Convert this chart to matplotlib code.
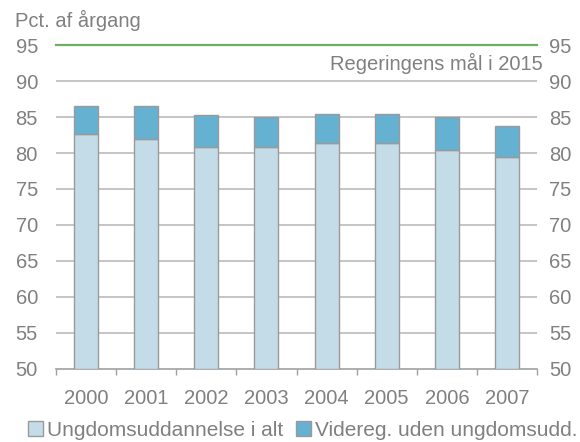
import numpy as np
import matplotlib.pyplot as plt
from matplotlib.patches import Patch

plt.rcParams['font.family'] = ['Liberation Sans', 'DejaVu Sans']

# data
years = ['2000', '2001', '2002', '2003', '2004', '2005', '2006', '2007']
ungdom = [82.6, 82.0, 80.8, 80.8, 81.4, 81.4, 80.45, 79.5]
total = [86.6, 86.6, 85.3, 85.0, 85.5, 85.5, 85.0, 83.8]
videreg = [t - u for t, u in zip(total, ungdom)]
goal = 95
goal_label = 'Regeringens mål i 2015'

GRAY = '#808080'
LIGHT = '#C4DCE8'
DARK = '#65B1D1'
EDGE = '#9A9A9A'
FS = 14.5

fig = plt.figure(figsize=(5.8, 4.42), dpi=100)
ax = fig.add_axes([56 / 580, 1 - 368.5 / 442, 481 / 580, 323.2 / 442])

x = np.arange(len(years))
bottom = 50
ax.bar(x, np.array(ungdom) - bottom, bottom=bottom, width=0.4, color=LIGHT,
       edgecolor=EDGE, linewidth=1, zorder=3)
ax.bar(x, videreg, bottom=ungdom, width=0.4, color=DARK,
       edgecolor=EDGE, linewidth=1, zorder=3)

ax.set_xlim(-0.5, len(years) - 0.5)
ax.set_ylim(50, 95)
yt = np.arange(50, 96, 5)
ax.set_yticks(yt)
for v in yt[1:-1]:
    ax.axhline(v, color='#C0C0C0', linewidth=1.3, zorder=1)
ax.axhline(goal, color='#6DB062', linewidth=1.6, zorder=2, clip_on=False)
fig.text(543 / 580, 1 - 63 / 442, goal_label, ha='right', va='center',
         fontsize=FS, color=GRAY)

for s in ['left', 'right', 'top']:
    ax.spines[s].set_visible(False)
ax.spines['bottom'].set_color('#A0A0A0')
ax.spines['bottom'].set_linewidth(1.2)

ax.set_xticks(x)
ax.set_xticklabels(years)
ax.set_xticks(np.arange(-0.5, len(years), 1), minor=True)
ax.tick_params(axis='x', which='major', length=0, pad=15, labelsize=FS, labelcolor=GRAY)
ax.tick_params(axis='x', which='minor', length=4.5, width=1, direction='out', color='#A0A0A0')
ax.tick_params(axis='y', length=0, pad=13, labelsize=FS, labelcolor=GRAY)

# right hand axis labels
ax2 = ax.twinx()
ax2.set_ylim(50, 95)
ax2.set_yticks(yt)
for s in ax2.spines.values():
    s.set_visible(False)
ax2.tick_params(axis='y', length=0, pad=9, labelsize=FS, labelcolor=GRAY)

fig.text(15 / 580, 1 - 20 / 442, 'Pct. af årgang', fontsize=FS, color=GRAY, va='center')

handles = [Patch(facecolor=LIGHT, edgecolor=EDGE, label='Ungdomsuddannelse i alt'),
           Patch(facecolor=DARK, edgecolor=EDGE, label='Videreg. uden ungdomsudd.')]
fig.legend(handles=handles, loc='center', bbox_to_anchor=(303 / 580, 12 / 442), ncol=2,
           frameon=False, fontsize=15, labelcolor=GRAY, handlelength=0.72,
           handleheight=0.72, handletextpad=0.2, columnspacing=0.6,
           borderpad=0, borderaxespad=0)

fig.savefig('out.png', dpi=100)
